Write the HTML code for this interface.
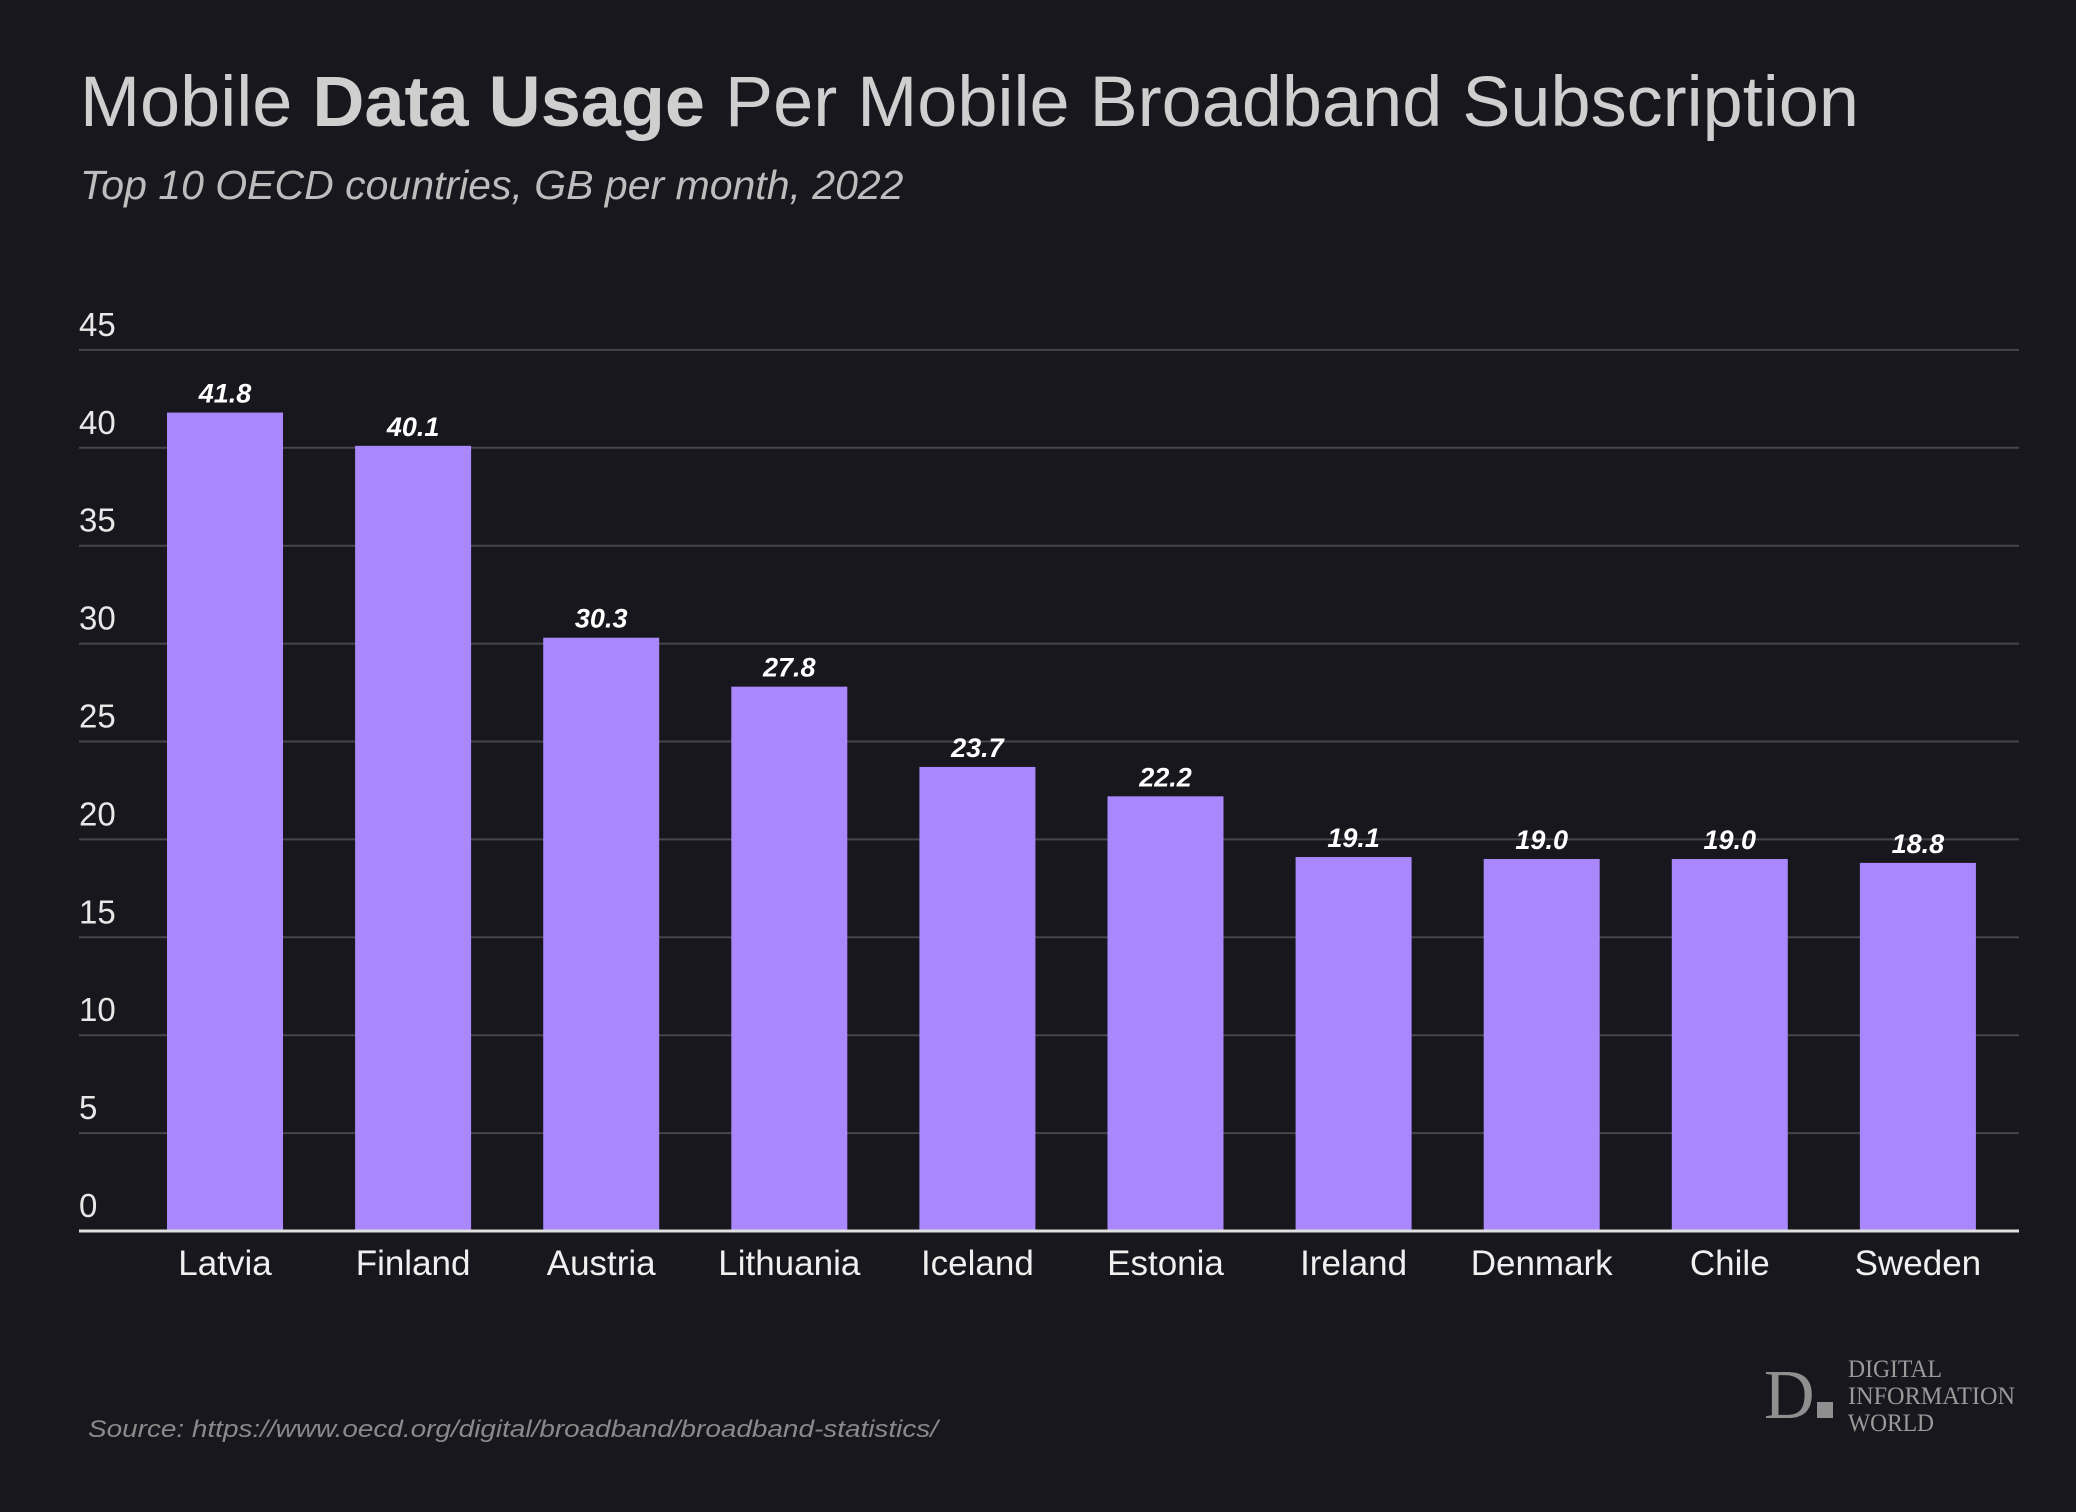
<!DOCTYPE html>
<html><head><meta charset="utf-8">
<style>
html,body{margin:0;padding:0;background:#18171d;}
svg{display:block;}
</style></head>
<body>
<svg id="chart" width="2076" height="1512" xmlns="http://www.w3.org/2000/svg">
<rect width="2076" height="1512" fill="#18171d"/>
<text x="80" y="126" font-family="Liberation Sans, sans-serif" font-size="71" fill="#cfcfcf" textLength="1779" lengthAdjust="spacingAndGlyphs">Mobile <tspan font-weight="bold">Data Usage</tspan> Per Mobile Broadband Subscription</text>
<text x="80" y="199" font-family="Liberation Sans, sans-serif" font-size="41" font-style="italic" fill="#bdbdbd">Top 10 OECD countries, GB per month, 2022</text>
<g id="grid"></g>
<g id="bars"></g>
<line x1="79" y1="1231" x2="2019" y2="1231" stroke="#e0e0e0" stroke-width="3"/>
<text x="88" y="1437" font-family="Liberation Sans, sans-serif" font-size="24" font-style="italic" fill="#8a8a8a" textLength="850" lengthAdjust="spacingAndGlyphs">Source: https://www.oecd.org/digital/broadband/broadband-statistics/</text>
<g>
<text x="1764" y="1418" font-family="Liberation Serif, serif" font-size="70" fill="#8f8f8f">D</text>
<rect x="1817" y="1402" width="16" height="16" fill="#8f8f8f"/>
<text x="1848" y="1377" font-family="Liberation Serif, serif" font-size="25" fill="#9a9a9a" textLength="94" lengthAdjust="spacingAndGlyphs">DIGITAL</text>
<text x="1848" y="1404" font-family="Liberation Serif, serif" font-size="25" fill="#9a9a9a" textLength="167" lengthAdjust="spacingAndGlyphs">INFORMATION</text>
<text x="1848" y="1431" font-family="Liberation Serif, serif" font-size="25" fill="#9a9a9a" textLength="86" lengthAdjust="spacingAndGlyphs">WORLD</text>
</g>
</svg>
<script>
const categories = ["Latvia","Finland","Austria","Lithuania","Iceland","Estonia","Ireland","Denmark","Chile","Sweden"];
const values = [41.8,40.1,30.3,27.8,23.7,22.2,19.1,19.0,19.0,18.8];
const valueLabels = ["41.8","40.1","30.3","27.8","23.7","22.2","19.1","19.0","19.0","18.8"];
const yTicks = [0,5,10,15,20,25,30,35,40,45];

const NS = "http://www.w3.org/2000/svg";
const y0 = 1231, pxPerUnit = 19.58;
function yScale(v){ return y0 - v * pxPerUnit; }
const step = 188.1, firstCenter = 225, barW = 116;
function xCenter(i){ return firstCenter + i * step; }

const grid = document.getElementById('grid');
yTicks.forEach(t => {
  if (t > 0) {
    const l = document.createElementNS(NS, 'line');
    l.setAttribute('x1', 79); l.setAttribute('x2', 2019);
    l.setAttribute('y1', yScale(t)); l.setAttribute('y2', yScale(t));
    l.setAttribute('stroke', '#46454b'); l.setAttribute('stroke-width', 2);
    
    
    grid.appendChild(l);
  }
  const tx = document.createElementNS(NS, 'text');
  tx.setAttribute('x', 79); tx.setAttribute('y', yScale(t) - 14);
  tx.setAttribute('font-family', 'Liberation Sans, sans-serif');
  tx.setAttribute('font-size', '33'); tx.setAttribute('fill', '#e8e8e8');
  tx.textContent = t;
  
  
  grid.appendChild(tx);
});

const bars = document.getElementById('bars');
categories.forEach((c, i) => {
  const cx = xCenter(i), top = yScale(values[i]);
  const r = document.createElementNS(NS, 'rect');
  r.setAttribute('x', cx - barW / 2); r.setAttribute('y', top);
  r.setAttribute('width', barW); r.setAttribute('height', y0 - top);
  r.setAttribute('fill', '#a987fd');
  
  
  bars.appendChild(r);
  const v = document.createElementNS(NS, 'text');
  v.setAttribute('x', cx); v.setAttribute('y', top - 10);
  v.setAttribute('text-anchor', 'middle');
  v.setAttribute('font-family', 'Liberation Sans, sans-serif');
  v.setAttribute('font-size', '27'); v.setAttribute('font-weight', 'bold');
  v.setAttribute('font-style', 'italic'); v.setAttribute('fill', '#ffffff');
  v.textContent = valueLabels[i];
  
  
  bars.appendChild(v);
  const l = document.createElementNS(NS, 'text');
  l.setAttribute('x', cx); l.setAttribute('y', 1275);
  l.setAttribute('text-anchor', 'middle');
  l.setAttribute('font-family', 'Liberation Sans, sans-serif');
  l.setAttribute('font-size', '35'); l.setAttribute('fill', '#f0f0f0');
  l.textContent = c;
  
  
  bars.appendChild(l);
});
</script>
</body></html>
